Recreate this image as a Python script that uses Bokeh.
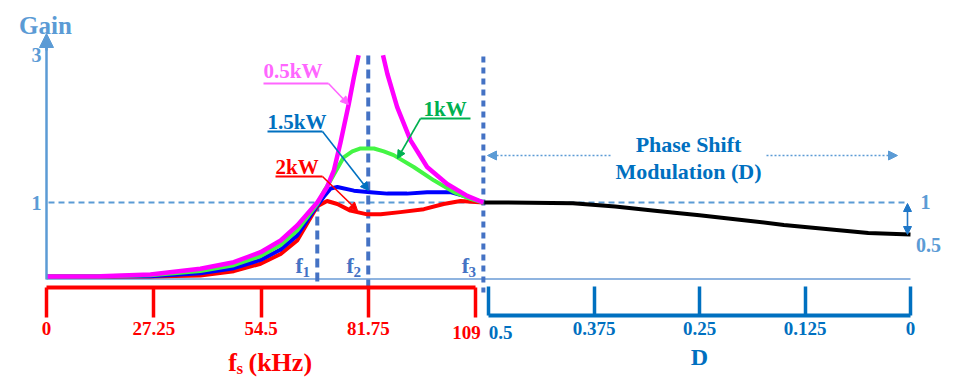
from bokeh.plotting import figure
from bokeh.models import Range1d, LinearAxis, FixedTicker, Arrow, NormalHead, Label
from bokeh.embed import file_html
from bokeh.resources import INLINE
from bokeh.core.properties import value

# ---------------- data ----------------
freq_ticks = [0, 27.25, 54.5, 81.75, 109]
freq_tick_labels = ["0", "27.25", "54.5", "81.75", "109"]
duty_ticks = [0.5, 0.375, 0.25, 0.125, 0]
duty_tick_labels = ["0.5", "0.375", "0.25", "0.125", "0"]
gain_ticks = [1, 3]

f_marks = [68.8, 81.75, 111.0]          # f1, f2, f3 in kHz
f_mark_subs = ["1", "2", "3"]

# 0.5 kW (the resonant peak runs off the top of the chart)
f_05kw_rise = [0, 13.7, 26.4, 39.1, 47.6, 54.4, 59.5, 63.7, 66.3, 68.8, 71.3, 73.0, 74.7, 76.8, 78.1, 79.3]
g_05kw_rise = [0.0, 0.005, 0.027, 0.104, 0.193, 0.328, 0.486, 0.689, 0.847, 1.0, 1.21, 1.43, 1.81, 2.33, 2.69, 2.99]
f_05kw_fall = [85.5, 86.6, 89.1, 92.5, 96.7, 101.8, 106.9, 111.0]
g_05kw_fall = [2.99, 2.74, 2.29, 1.84, 1.48, 1.25, 1.09, 1.0]

# 1 kW
f_1kw = [0, 13.7, 26.4, 39.1, 47.6, 54.4, 59.5, 63.7, 66.3, 68.8, 70.5, 72.2, 75.5, 77.7, 79.8, 83.2,
         85.7, 88.2, 93.3, 98.4, 103.5, 107.7, 111.0]
g_1kw = [0.0, 0.003, 0.016, 0.074, 0.153, 0.277, 0.426, 0.622, 0.804, 0.98, 1.15, 1.30, 1.61, 1.69, 1.73, 1.73,
         1.69, 1.64, 1.48, 1.30, 1.14, 1.05, 1.0]

# 1.5 kW
f_15kw = [0, 13.7, 26.4, 39.1, 47.6, 54.4, 59.5, 63.7, 66.3, 68.8, 70.5, 72.2, 73.9, 78.1, 82.3, 86.6,
          91.6, 96.7, 102.6, 106.0, 111.0]
g_15kw = [0.0, 0.002, 0.005, 0.045, 0.112, 0.224, 0.365, 0.554, 0.764, 0.96, 1.08, 1.19, 1.21, 1.16, 1.14, 1.12,
          1.12, 1.14, 1.14, 1.09, 1.0]

# 2 kW
f_2kw = [0, 13.7, 26.4, 39.1, 47.6, 54.4, 59.5, 63.7, 66.3, 68.8, 71.3, 73.9, 77.2, 81.5, 84.9, 89.9,
         95.9, 100.9, 105.2, 111.0]
g_2kw = [0.0, 0.0, 0.0, 0.014, 0.072, 0.172, 0.304, 0.486, 0.723, 0.95, 1.02, 0.98, 0.89, 0.84, 0.84, 0.87,
         0.91, 0.98, 1.02, 1.0]

# Phase shift modulation region (gain vs D)
d_psm = [0.505, 0.45, 0.4, 0.35, 0.3, 0.25, 0.2, 0.15, 0.1, 0.05, 0.0]
g_psm = [1.0, 0.997, 0.99, 0.946, 0.886, 0.827, 0.765, 0.696, 0.642, 0.588, 0.568]

# ---------------- layout helpers (canvas pixels -> data units) ----------------
FONT = "Liberation Serif"
W, H = 959, 390
PAGE_X_F0, PX_PER_KHZ = 46.0, 429.0 / 109.0
PAGE_Y_G0, PX_PER_GAIN = 276.0, 74.0
PAGE_X_D0, PX_PER_D = 910.0, 844.0
BASELINE_FIX = 0.3   # text baseline correction, in em


def fx(px):
    return (px - PAGE_X_F0) / PX_PER_KHZ


def gy(py):
    return (PAGE_Y_G0 - py) / PX_PER_GAIN


def dx(px):
    return (PAGE_X_D0 - px) / PX_PER_D


def ty(py, size):
    """data y for a text whose alphabetic baseline should sit at canvas row py"""
    return gy(py - BASELINE_FIX * size)


RED = "#FF0000"
DBLUE = "#0070C0"
LBLUE = "#5B9BD5"
SLATE = "#4472C4"
BASE_C = "#8FB4E0"

p = figure(width=W, height=H,
           x_range=Range1d(fx(0), fx(W)), y_range=Range1d(gy(H), gy(0)),
           output_backend="svg", toolbar_location=None,
           x_axis_location=None, y_axis_location=None,
           min_border_left=0, min_border_right=0, min_border_top=0, min_border_bottom=0)
p.extra_x_ranges = {"D": Range1d(dx(0), dx(W))}
p.outline_line_color = None
p.background_fill_color = "white"
p.border_fill_color = "white"
p.xgrid.visible = False
p.ygrid.visible = False

label_font = dict(major_label_text_font=FONT, major_label_text_font_style="bold")


def label(x, py, text, size, color, align="center", range_name="default"):
    p.add_layout(Label(x=x, y=ty(py, size), x_range_name=range_name, text=text, text_font=FONT,
                       text_font_style="bold", text_font_size=f"{size}px", text_color=color,
                       text_align=align, text_baseline="alphabetic"))


# gain axis
yaxis = LinearAxis(ticker=FixedTicker(ticks=gain_ticks), bounds=(gy(278.5), gy(46)),
                   fixed_location=0,
                   axis_line_color=LBLUE, axis_line_width=2.5,
                   major_tick_line_color=None, minor_tick_line_color=None,
                   major_tick_in=0, major_tick_out=0,
                   major_label_text_font_size="20px", major_label_text_color=LBLUE,
                   major_label_standoff=5, **label_font)
p.add_layout(yaxis, "left")

# switching frequency axis (end label drawn separately, shifted left as in the figure)
red_axis = LinearAxis(ticker=FixedTicker(ticks=freq_ticks), bounds=(freq_ticks[0], freq_ticks[-1]),
                      fixed_location=gy(287),
                      major_label_overrides={**dict(zip(freq_ticks, freq_tick_labels)), freq_ticks[-1]: ""},
                      axis_line_color=RED, axis_line_width=4,
                      major_tick_line_color=RED, major_tick_line_width=3.5,
                      major_tick_in=0, major_tick_out=30, minor_tick_line_color=None,
                      major_label_text_font_size="19px", major_label_text_color=RED,
                      major_label_standoff=4, **label_font)
p.add_layout(red_axis, "below")
label(fx(466), 338, freq_tick_labels[-1], 19, RED)

# duty (phase shift) axis (start label drawn separately, shifted right)
d_axis = LinearAxis(x_range_name="D", ticker=FixedTicker(ticks=duty_ticks),
                    bounds=(duty_ticks[-1], duty_ticks[0]), fixed_location=gy(315),
                    major_label_overrides={**dict(zip(duty_ticks, duty_tick_labels)), duty_ticks[0]: ""},
                    axis_line_color=DBLUE, axis_line_width=4,
                    major_tick_line_color=DBLUE, major_tick_line_width=3.5,
                    major_tick_in=29, major_tick_out=0, minor_tick_line_color=None,
                    major_label_text_font_size="19px", major_label_text_color=DBLUE,
                    major_label_standoff=6,
                    axis_label="D", axis_label_text_font=FONT, axis_label_text_font_style="bold",
                    axis_label_text_font_size="24px", axis_label_text_color=DBLUE,
                    axis_label_standoff=6, **label_font)
p.add_layout(d_axis, "below")
label(dx(500), 338, duty_tick_labels[0], 19, DBLUE, range_name="D")

# gain-axis arrow head and title
p.add_layout(Arrow(x_start=0, y_start=gy(50), x_end=0, y_end=gy(33),
                   line_color=LBLUE, line_width=2.5,
                   end=NormalHead(size=14, fill_color=LBLUE, line_color=LBLUE)))
label(fx(45), 32, "Gain", 25, LBLUE)

# frequency axis title f_s (kHz)
label(fx(232), 370, "f", 26, RED)
label(fx(236), 373, "s", 17, RED, align="left")
label(fx(248), 370, "(kHz)", 26, RED, align="left")

# baseline and gain = 1 reference
p.segment(x0=[freq_ticks[0]], y0=[gy(278.5)], x1=[fx(PAGE_X_D0)], y1=[gy(278.5)],
          line_color=BASE_C, line_width=2)
p.segment(x0=[fx(48)], y0=[1.0], x1=[fx(905)], y1=[1.0],
          line_color=LBLUE, line_width=2, line_dash="6 4")

# f1, f2, f3 markers
p.segment(x0=f_marks[:2], y0=[1.0, gy(55)], x1=f_marks[:2], y1=[gy(286), gy(292)],
          line_color=SLATE, line_width=4, line_dash="9 5")
p.segment(x0=f_marks[2:], y0=[gy(56)], x1=f_marks[2:], y1=[gy(292)],
          line_color=SLATE, line_width=4, line_dash="6 5")
p.text(x=f_marks, y=[ty(272, 22)] * 3, text=["f"] * 3, x_offset=-18,
       text_font=value(FONT), text_font_style="bold", text_font_size="22px",
       text_color=SLATE, text_align="center", text_baseline="alphabetic")
p.text(x=f_marks, y=[ty(276, 15)] * 3, text=f_mark_subs, x_offset=-11,
       text_font=value(FONT), text_font_style="bold", text_font_size="15px",
       text_color=SLATE, text_align="center", text_baseline="alphabetic")

# gain curves
p.line(f_2kw, g_2kw, line_color="#FF0000", line_width=4, line_join="round")
p.line(f_15kw, g_15kw, line_color="#0000FF", line_width=4, line_join="round")
p.line(f_1kw, g_1kw, line_color="#44F544", line_width=4, line_join="round")
p.line(f_05kw_rise, g_05kw_rise, line_color="#FF00FF", line_width=4.5, line_join="round")
p.line(f_05kw_fall, g_05kw_fall, line_color="#FF00FF", line_width=4.5, line_join="round")

# curve labels with leader arrows
leaders = [
    ("0.5kW", "#FF66FF", 263, 77, 263, 328, 83, (328, 83), (348, 104)),
    ("1.5kW", DBLUE, 267, 128, 267, 322, 131, (322, 131), (368, 190)),
    ("2kW", RED, 275, 173, 275, 322, 176, (322, 176), (357, 210)),
    ("1kW", "#00B050", 423, 115, 420, 470, 118, (420, 118), (397, 158)),
]
for txt, col, tx, tyy, ux0, ux1, uy, a0, a1 in leaders:
    label(fx(tx), tyy, txt, 21, col, align="left")
    p.line([fx(ux0), fx(ux1)], [gy(uy), gy(uy)], line_color=col, line_width=2)
    p.add_layout(Arrow(x_start=fx(a0[0]), y_start=gy(a0[1]), x_end=fx(a1[0]), y_end=gy(a1[1]),
                       line_color=col, line_width=1.6,
                       end=NormalHead(size=8, fill_color=col, line_color=col, line_width=1)))

# ---------------- phase shift modulation part ----------------
p.line(d_psm, g_psm, x_range_name="D", line_color="black", line_width=4, line_join="round")

label(dx(688), 151, "Phase Shift", 22, DBLUE, range_name="D")
label(dx(688), 178, "Modulation (D)", 22, DBLUE, range_name="D")
for xs, xe in [(610, 487), (766, 897)]:
    p.add_layout(Arrow(x_start=dx(xs), y_start=gy(155), x_end=dx(xe), y_end=gy(155), x_range_name="D",
                       line_color=LBLUE, line_width=1.5, line_dash="2 2",
                       end=NormalHead(size=9, fill_color=LBLUE, line_color=LBLUE, line_width=1)))

p.add_layout(Arrow(x_start=dx(907), y_start=gy(203), x_end=dx(907), y_end=gy(234), x_range_name="D",
                   line_color="#1F77C8", line_width=1.6,
                   start=NormalHead(size=8, fill_color="#1F77C8", line_color="#1F77C8", line_width=1),
                   end=NormalHead(size=8, fill_color="#1F77C8", line_color="#1F77C8", line_width=1)))
label(dx(925), 207, "1", 20, LBLUE, range_name="D")
label(dx(928), 250, "0.5", 20, LBLUE, range_name="D")

open("out.html", "w").write(file_html(p, INLINE, title="Gain"))
